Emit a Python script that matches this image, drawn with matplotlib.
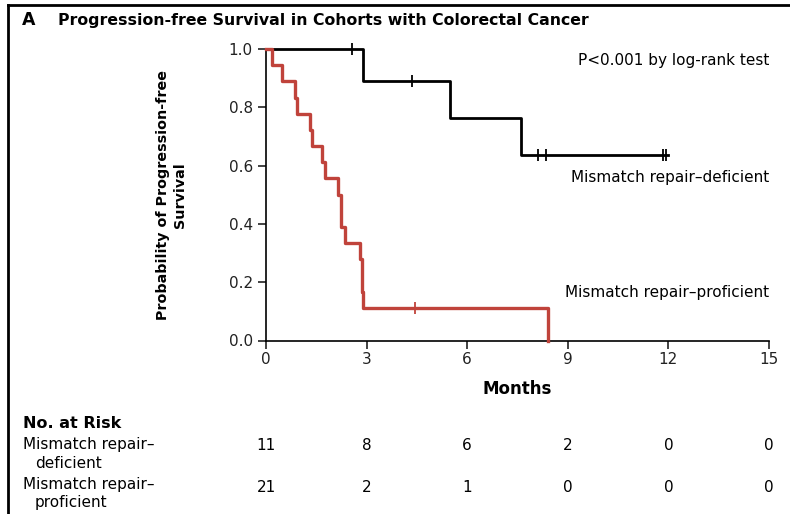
import numpy as np
import matplotlib
matplotlib.use('Agg')
from matplotlib import pyplot as plt
from matplotlib.lines import Line2D
import matplotlib.transforms as mtransforms

# Kaplan-Meier curves
months_dmmr = [0, 2.9, 5.48, 7.61, 12.0]
surv_dmmr = [1.0, 0.889, 0.762, 0.635, 0.635]
censor_dmmr = [2.55, 4.34, 8.1, 8.35, 11.83, 11.93]

months_pmmr = [0, 0.17, 0.47, 0.86, 0.91, 1.31, 1.36, 1.66, 1.76,
               2.15, 2.25, 2.35, 2.8, 2.85, 2.9, 8.4]
surv_pmmr = [1.0, 0.944, 0.889, 0.833, 0.778, 0.722, 0.667, 0.611, 0.556,
             0.5, 0.389, 0.333, 0.278, 0.167, 0.111, 0.0]
censor_pmmr = [4.43]

risk_times = [0, 3, 6, 9, 12, 15]
risk_dmmr = [11, 8, 6, 2, 0, 0]
risk_pmmr = [21, 2, 1, 0, 0, 0]

red = '#c0433b'


def level_at(times, surv, t):
    i = np.searchsorted(times, t, side='right') - 1
    return np.asarray(surv)[i]


fig = plt.figure(figsize=(7.9, 5.14), dpi=100)
ax = fig.add_axes([266 / 790, 1 - 340.5 / 514, (769 - 266) / 790, (340.5 - 49) / 514])

ax.step(months_dmmr, surv_dmmr, where='post', color='black', lw=2.0, clip_on=False, zorder=3)
ax.plot(censor_dmmr, level_at(months_dmmr, surv_dmmr, censor_dmmr), ls='none',
        marker='|', ms=8, mew=1.3, color='black', clip_on=False, zorder=3)
ax.step(months_pmmr, surv_pmmr, where='post', color=red, lw=2.4, clip_on=False, zorder=4)
ax.plot(censor_pmmr, level_at(months_pmmr, surv_pmmr, censor_pmmr), ls='none',
        marker='|', ms=8, mew=1.3, color=red, clip_on=False, zorder=4)

ax.set_xlim(0, 15)
ax.set_ylim(0, 1.0)
ax.set_xticks(risk_times)
ax.set_yticks(np.arange(0, 1.01, 0.2))
ax.set_yticklabels(['%.1f' % v for v in np.arange(0, 1.01, 0.2)])
for s in ['top', 'right']:
    ax.spines[s].set_visible(False)
for s in ['left', 'bottom']:
    ax.spines[s].set_linewidth(1.2)
ax.tick_params(direction='out', length=6, width=1.2, labelsize=11, colors='#222222')
ax.tick_params(axis='x', pad=2)

ax.set_xlabel('Months', fontsize=12, fontweight='bold', labelpad=10)
ax.set_ylabel('Probability of Progression-free\nSurvival', fontsize=10.3,
              fontweight='bold', linespacing=1.3, labelpad=30)

fig.text(22 / 790, 1 - 20 / 514, 'A', fontsize=12.5, fontweight='bold', va='center')
fig.text(58 / 790, 1 - 20 / 514, 'Progression-free Survival in Cohorts with Colorectal Cancer',
         fontsize=11.3, fontweight='bold', va='center')

ax.text(1.0, 0.96, 'P<0.001 by log-rank test', transform=ax.transAxes,
        ha='right', va='center', fontsize=11)
ax.text(1.0, 0.56, 'Mismatch repair\u2013deficient', transform=ax.transAxes,
        ha='right', va='center', fontsize=11)
ax.text(1.0, 0.165, 'Mismatch repair\u2013proficient', transform=ax.transAxes,
        ha='right', va='center', fontsize=11)

# number at risk table
fig.text(23 / 790, 1 - 424 / 514, 'No. at Risk', fontsize=11.5, fontweight='bold', va='center')
fig.text(23 / 790, 1 - 445 / 514, 'Mismatch repair\u2013', fontsize=11, va='center')
fig.text(35 / 790, 1 - 463 / 514, 'deficient', fontsize=11, va='center')
fig.text(23 / 790, 1 - 485 / 514, 'Mismatch repair\u2013', fontsize=11, va='center')
fig.text(35 / 790, 1 - 503 / 514, 'proficient', fontsize=11, va='center')

trans = mtransforms.blended_transform_factory(ax.transData, fig.transFigure)
for t, a, b in zip(risk_times, risk_dmmr, risk_pmmr):
    ax.text(t, 1 - 446 / 514, str(a), transform=trans, ha='center', va='center',
            fontsize=11, clip_on=False)
    ax.text(t, 1 - 487 / 514, str(b), transform=trans, ha='center', va='center',
            fontsize=11, clip_on=False)

# partial frame around the panel (left and top edges)
fig.add_artist(Line2D([8 / 790, 8 / 790], [0, 1 - 5 / 514], color='black', lw=2,
                      transform=fig.transFigure))
fig.add_artist(Line2D([8 / 790, 1], [1 - 5 / 514, 1 - 5 / 514], color='black', lw=2,
                      transform=fig.transFigure))

fig.savefig('out.png', dpi=100)
